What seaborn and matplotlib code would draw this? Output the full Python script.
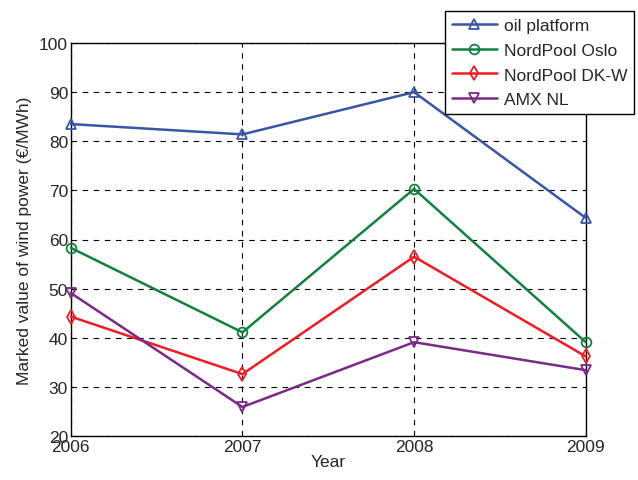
import matplotlib
matplotlib.use("Agg")
import matplotlib.pyplot as plt
import seaborn as sns
import pandas as pd

years = [2006, 2007, 2008, 2009]
oil_platform = [83.5, 81.4, 90.0, 64.4]
nordpool_oslo = [58.3, 41.1, 70.3, 39.1]
nordpool_dkw = [44.3, 32.6, 56.5, 36.2]
amx_nl = [49.1, 25.9, 39.1, 33.4]

series_names = ["oil platform", "NordPool Oslo", "NordPool DK-W", "AMX NL"]
series_values = [oil_platform, nordpool_oslo, nordpool_dkw, amx_nl]
colors = ["#3A55A6", "#148040", "#EE1C24", "#7A2A86"]
markers = ["^", "o", "d", "v"]

x_ticks = [2006, 2007, 2008, 2009]
y_ticks = [20, 30, 40, 50, 60, 70, 80, 90, 100]

sns.set_style("white")
plt.rcParams["font.family"] = ["Liberation Sans", "DejaVu Sans"]

fig = plt.figure(figsize=(6.38, 4.81), dpi=100)
ax = fig.add_axes([0.111, 0.0915, 0.807, 0.817])

for name, vals, c, m in zip(series_names, series_values, colors, markers):
    df = pd.DataFrame({"Year": years, "Value": vals})
    sns.lineplot(data=df, x="Year", y="Value", ax=ax, color=c, marker=m,
                 markersize=7, markerfacecolor="none", markeredgecolor=c,
                 markeredgewidth=1.3, linewidth=1.8, label=name, clip_on=False,
                 zorder=3)

ax.set_xlim(2006, 2009)
ax.set_ylim(20, 100)
ax.set_xticks(x_ticks)
ax.set_yticks(y_ticks)
ax.set_xticklabels([str(t) for t in x_ticks], fontsize=12.5)
ax.set_yticklabels([str(t) for t in y_ticks], fontsize=12.5)
ax.tick_params(direction="in", length=4, color="black", pad=2)
ax.grid(True, color="black", linestyle=(0, (5, 5)), linewidth=0.8)
ax.set_xlabel("Year", fontsize=12.5, labelpad=0)
ax.set_ylabel("Marked value of wind power (€/MWh)", fontsize=12.5, labelpad=5)
for s in ax.spines.values():
    s.set_color("black")
    s.set_linewidth(1.0)

leg = ax.legend(loc="upper left", bbox_to_anchor=(0.697, 0.975),
                bbox_transform=fig.transFigure, fontsize=12.5, frameon=True,
                fancybox=False, edgecolor="black", framealpha=1,
                borderpad=0.4, labelspacing=0.55, handlelength=2.6,
                handletextpad=0.4, borderaxespad=0)
leg.get_frame().set_linewidth(1.0)

fig.savefig("out.png", dpi=100)
